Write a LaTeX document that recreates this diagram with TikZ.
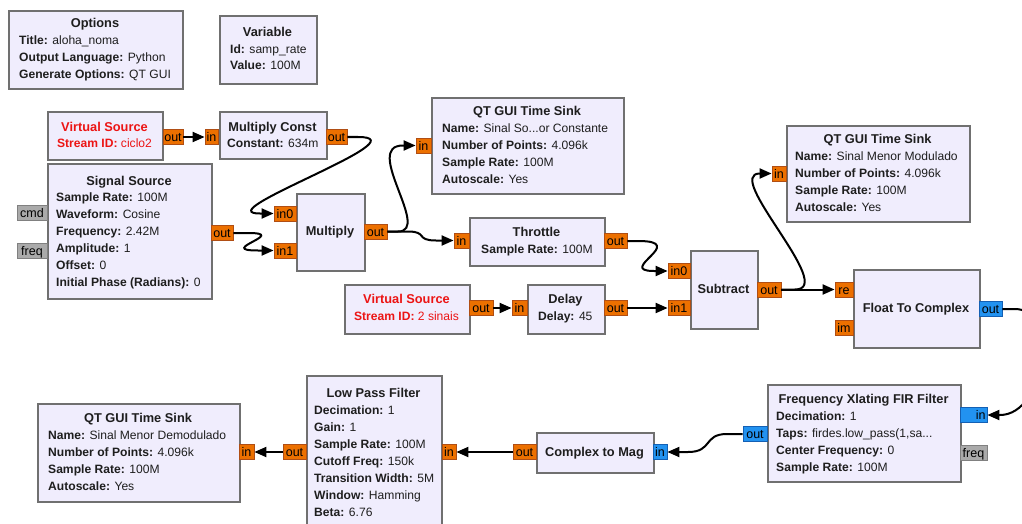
\documentclass[tikz,border=0pt]{standalone}
\usepackage{fontspec}
\setmainfont{Liberation Sans}
\usetikzlibrary{arrows.meta}

\definecolor{blkfill}{RGB}{240,237,253}
\definecolor{blkline}{RGB}{112,112,112}
\definecolor{portor}{RGB}{236,112,0}
\definecolor{portorline}{RGB}{176,78,20}
\definecolor{portbl}{RGB}{34,146,240}
\definecolor{portblline}{RGB}{20,96,180}
\definecolor{portgr}{RGB}{170,170,170}
\definecolor{portgrline}{RGB}{128,128,128}
\definecolor{txt}{RGB}{30,30,30}
\definecolor{vred}{RGB}{236,20,20}

\tikzset{
  blk/.style={draw=blkline, fill=blkfill, line width=2pt, anchor=north west, inner sep=0pt},
  port/.style={line width=0.8pt, inner sep=0pt, minimum height=15pt,
    font=\fontsize{12.5}{13}\selectfont, text height=9pt, text depth=0pt, text=black},
  oport/.style={port, fill=portor, draw=portorline},
  bport/.style={port, fill=portbl, draw=portblline},
  gport/.style={port, fill=portgr, draw=portgrline},
  ttl/.style={font=\fontsize{12.8}{14}\selectfont\bfseries, inner sep=0pt,
    text height=9.1pt, text depth=0pt, text=txt},
  prm/.style={font=\fontsize{12.1}{13}\selectfont, inner sep=0pt, anchor=west,
    text height=8.7pt, text depth=0pt, text=txt},
  vtxt/.style={prm, anchor=center, text=vred},
  conn/.style={line width=2pt, -{Triangle[length=12pt,width=10pt]}},
}

% one "Key: value" parameter line of a block
\newcommand\prmline[4]{\node[prm] (#1) at (#2) {\textbf{#3:} #4};}

\begin{document}
\begin{tikzpicture}[x=1pt, y=-1pt]
\path[use as bounding box] (0,0) rectangle (1022,524);
\fill[white] (0,0) rectangle (1022,524);
\clip (0,0) rectangle (1022,524);

% ---------------- blocks ----------------
\node[blk, minimum width=174pt, minimum height=78pt] (opt) at (8,10) {};
\node[blk, minimum width=97pt,  minimum height=68pt] (var) at (219,15) {};
\node[blk, minimum width=115pt, minimum height=48pt] (vs1) at (47,111) {};
\node[blk, minimum width=107pt, minimum height=47pt] (mc)  at (219,111) {};
\node[blk, minimum width=164pt, minimum height=135pt] (ss) at (47,163) {};
\node[blk, minimum width=68pt,  minimum height=77pt] (mul) at (296,193) {};
\node[blk, minimum width=192pt, minimum height=96pt] (s1)  at (431,97) {};
\node[blk, minimum width=135pt, minimum height=48pt] (thr) at (469,217) {};
\node[blk, minimum width=125pt, minimum height=49pt] (vs2) at (344,284) {};
\node[blk, minimum width=77pt,  minimum height=49pt] (dly) at (527,284) {};
\node[blk, minimum width=67pt,  minimum height=78pt] (sub) at (690,250) {};
\node[blk, minimum width=183pt, minimum height=96pt] (s2)  at (786,125) {};
\node[blk, minimum width=126pt, minimum height=78pt] (fc)  at (853,269) {};
\node[blk, minimum width=202pt, minimum height=98pt] (s3)  at (37,403) {};
\node[blk, minimum width=135pt, minimum height=160pt] (lpf) at (306,375) {};
\node[blk, minimum width=117pt, minimum height=40pt] (cm)  at (536,432) {};
\node[blk, minimum width=193pt, minimum height=97pt] (fx)  at (767,384) {};

% ---------------- block texts ----------------
\node[ttl] (opt-t) at (95,23) {Options};
\prmline{opt-a}{19,40}{Title}{aloha\_noma}
\prmline{opt-b}{19,57}{Output Language}{Python}
\prmline{opt-c}{19,74}{Generate Options}{QT GUI}

\node[ttl] (var-t) at (267.5,32) {Variable};
\prmline{var-a}{230,49}{Id}{samp\_rate}
\prmline{var-b}{230,65}{Value}{100M}

\node[ttl, text=vred] (vs1-t) at (104.5,127) {Virtual Source};
\node[vtxt] (vs1-a) at (104.5,143) {\textbf{Stream ID:} ciclo2};

\node[ttl] (mc-t) at (272.5,127) {Multiply Const};
\prmline{mc-a}{227,143}{Constant}{634m}

\node[ttl] (ss-t) at (129,181) {Signal Source};
\prmline{ss-a}{56,197}{Sample Rate}{100M}
\prmline{ss-b}{56,214}{Waveform}{Cosine}
\prmline{ss-c}{56,231}{Frequency}{2.42M}
\prmline{ss-d}{56,248}{Amplitude}{1}
\prmline{ss-e}{56,265}{Offset}{0}
\prmline{ss-f}{56,282}{Initial Phase (Radians)}{0}

\node[ttl] (mul-t) at (330,231) {Multiply};

\node[ttl] (s1-t) at (527,111) {QT GUI Time Sink};
\prmline{s1-a}{442,128}{Name}{Sinal So...or Constante}
\prmline{s1-b}{442,145}{Number of Points}{4.096k}
\prmline{s1-c}{442,162}{Sample Rate}{100M}
\prmline{s1-d}{442,179}{Autoscale}{Yes}

\node[ttl] (thr-t) at (536.5,232) {Throttle};
\prmline{thr-a}{481,249}{Sample Rate}{100M}

\node[ttl, text=vred] (vs2-t) at (406.5,299) {Virtual Source};
\node[vtxt] (vs2-a) at (406.5,316) {\textbf{Stream ID:} 2 sinais};

\node[ttl] (dly-t) at (565.5,299) {Delay};
\prmline{dly-a}{538,316}{Delay}{45}

\node[ttl] (sub-t) at (723.5,289) {Subtract};

\node[ttl] (s2-t) at (877.5,139) {QT GUI Time Sink};
\prmline{s2-a}{795,156}{Name}{Sinal Menor Modulado}
\prmline{s2-b}{795,173}{Number of Points}{4.096k}
\prmline{s2-c}{795,190}{Sample Rate}{100M}
\prmline{s2-d}{795,207}{Autoscale}{Yes}

\node[ttl] (fc-t) at (916,308) {Float To Complex};

\node[ttl] (s3-t) at (138,418) {QT GUI Time Sink};
\prmline{s3-a}{48,435}{Name}{Sinal Menor Demodulado}
\prmline{s3-b}{48,452}{Number of Points}{4.096k}
\prmline{s3-c}{48,469}{Sample Rate}{100M}
\prmline{s3-d}{48,486}{Autoscale}{Yes}

\node[ttl] (lpf-t) at (373.5,393) {Low Pass Filter};
\prmline{lpf-a}{314,410}{Decimation}{1}
\prmline{lpf-b}{314,427}{Gain}{1}
\prmline{lpf-c}{314,444}{Sample Rate}{100M}
\prmline{lpf-d}{314,461}{Cutoff Freq}{150k}
\prmline{lpf-e}{314,478}{Transition Width}{5M}
\prmline{lpf-f}{314,495}{Window}{Hamming}
\prmline{lpf-g}{314,512}{Beta}{6.76}

\node[ttl] (cm-t) at (594.5,452) {Complex to Mag};

\node[ttl] (fx-t) at (863.5,399) {Frequency Xlating FIR Filter};
\prmline{fx-a}{776,416}{Decimation}{1}
\prmline{fx-b}{776,433}{Taps}{firdes.low\_pass(1,sa...}
\prmline{fx-c}{776,450}{Center Frequency}{0}
\prmline{fx-d}{776,467}{Sample Rate}{100M}

% ---------------- ports ----------------
\node[oport, minimum width=20pt] (vs1-out) at (173,137) {out};
\node[oport, minimum width=13pt] (mc-in)   at (211.5,137) {in};
\node[oport, minimum width=21pt] (mc-out)  at (336.5,137) {out};
\node[gport, minimum width=30pt] (ss-cmd)  at (32,213) {cmd};
\node[gport, minimum width=30pt] (ss-freq) at (32,250.5) {freq};
\node[oport, minimum width=22pt] (ss-out)  at (222,233) {out};
\node[oport, minimum width=22pt] (mul-in0) at (285,213.5) {in0};
\node[oport, minimum width=22pt] (mul-in1) at (285,250.5) {in1};
\node[oport, minimum width=23pt] (mul-out) at (375.5,231.5) {out};
\node[oport, minimum width=15pt] (s1-in)   at (423.5,145.5) {in};
\node[oport, minimum width=15pt] (thr-in)  at (461.5,240.5) {in};
\node[oport, minimum width=23pt] (thr-out) at (615.5,241) {out};
\node[oport, minimum width=24pt] (vs2-out) at (481,308) {out};
\node[oport, minimum width=15pt] (dly-in)  at (519.5,308) {in};
\node[oport, minimum width=23pt] (dly-out) at (615.5,308) {out};
\node[oport, minimum width=22pt] (sub-in0) at (679,271) {in0};
\node[oport, minimum width=22pt] (sub-in1) at (679,308) {in1};
\node[oport, minimum width=24pt] (sub-out) at (769,289.5) {out};
\node[oport, minimum width=14pt] (s2-in)   at (779,173.5) {in};
\node[oport, minimum width=18pt] (fc-re)   at (844,289.5) {re};
\node[oport, minimum width=18pt] (fc-im)   at (844,328) {im};
\node[bport, minimum width=23pt] (fc-out)  at (990.5,309) {out};
\node[oport, minimum width=15pt] (s3-in)   at (246.5,452) {in};
\node[oport, minimum width=23pt] (lpf-out) at (294.5,452) {out};
\node[oport, minimum width=14pt] (lpf-in)  at (449,452) {in};
\node[oport, minimum width=23pt] (cm-out)  at (524.5,452) {out};
\node[bport, minimum width=14pt] (cm-in)   at (660,452) {in};
\node[bport, minimum width=27pt] (fx-in)   at (973.5,415) {\makebox[24pt][r]{in}};
\node[gport, minimum width=27pt] (fx-freq) at (973.5,452.5) {freq};
\node[bport, minimum width=24pt] (fx-out)  at (755,434) {out};

% ---------------- connections ----------------
\draw[conn] (vs1-out.east) -- (mc-in.west);
\draw[conn] (mc-out.east) -- (358,137) .. controls (425,137) and (205,213.5) .. (260,213.5) -- (mul-in0.west);
\draw[conn] (ss-out.east) -- (248,233) .. controls (290,233) and (215,250.5) .. (258,250.5) -- (mul-in1.west);
\draw[conn] (mul-out.east) -- (398,231.5) .. controls (432,231.5) and (362,145.5) .. (403,145.5) -- (s1-in.west);
\draw[conn] (mul-out.east) -- (408,231.5) .. controls (428,231.5) and (415,240.5) .. (436,240.5) -- (thr-in.west);
\draw[conn] (thr-out.east) -- (638,241) .. controls (690,241) and (615,271) .. (654,271) -- (sub-in0.west);
\draw[conn] (vs2-out.east) -- (dly-in.west);
\draw[conn] (dly-out.east) -- (sub-in1.west);
\draw[conn] (sub-out.east) -- (fc-re.west);
\draw[conn] (sub-out.east) -- (795,289.5) .. controls (838,289.5) and (722,173.5) .. (760,173.5) -- (s2-in.west);
\draw[conn] (fc-out.east) -- (1015,309) .. controls (1060,309) and (1045,415) .. (1000,415) -- (fx-in.east);
\draw[conn] (fx-out.west) -- (727,434) .. controls (703,434) and (713,452) .. (688,452) -- (cm-in.east);
\draw[conn] (cm-out.west) -- (lpf-in.east);
\draw[conn] (lpf-out.west) -- (s3-in.east);
\end{tikzpicture}
\end{document}
